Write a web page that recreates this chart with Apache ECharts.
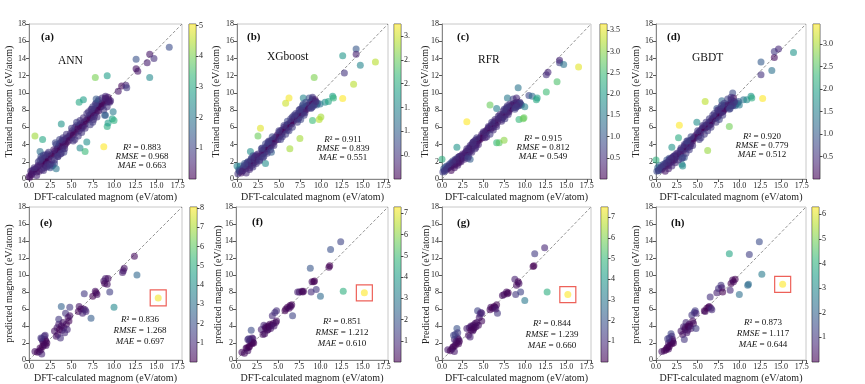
<!DOCTYPE html>
<html><head><meta charset="utf-8">
<script src="https://cdn.jsdelivr.net/npm/echarts@6/dist/echarts.min.js"></script>
<style>html,body{margin:0;padding:0;background:#fff}#c{width:865px;height:384px}</style>
</head><body><div id="c"></div>
<script>
// ---------------- DATA ----------------
// training set: DFT-calculated values (shared by the four models)
const trainX = [
 0.1,0.2,0.3,0.4,0.5,0.6,0.7,0.0,
 0.8,0.9,1.0,1.1,1.2,1.3,1.3,1.4,1.5,1.5,1.6,1.6,1.7,1.7,1.8,1.8,1.9,1.9,2.0,2.0,2.1,2.1,2.2,2.2,2.3,2.3,2.4,2.5,2.6,2.7,
 2.8,2.9,3.0,3.0,3.1,3.2,3.3,3.3,3.4,3.5,3.5,3.6,3.6,3.7,3.8,3.8,3.9,4.0,4.0,4.1,4.2,4.2,4.3,4.4,4.5,4.6,3.4,3.9,2.9,4.1,
 4.7,4.8,4.9,5.0,5.1,5.2,5.3,5.4,5.5,5.6,5.7,5.8,5.9,5.9,6.0,6.0,6.1,6.2,6.2,6.3,6.4,6.5,6.6,6.6,6.7,6.8,6.9,6.4,
 7.0,7.1,7.2,7.3,7.4,7.5,7.5,7.6,7.7,7.8,7.8,7.9,8.0,8.0,8.1,8.2,8.3,8.4,7.3,7.7,8.1,7.9,
 8.5,8.6,8.7,8.8,8.9,9.0,9.0,9.1,9.2,9.2,9.3,9.3,9.4,9.5,9.6,9.8,9.9,10.0,
 10.5,10.9,11.4,11.5,12.6,12.6,12.8,13.9,14.2,14.2,14.7,16.5,
 0.3,0.6,0.9,1.1,1.3,1.5,1.7,1.9,2.1,2.3,2.5,2.7, 3.0,3.2,3.4,3.6,3.8,4.0,4.2,4.4,3.1,3.7,
 5.0,5.4,5.6,5.8,6.0,6.2,6.4,6.6,6.8,5.2, 7.0,7.2,7.4,7.6,7.8,8.0,8.2,7.5,7.9, 8.6,8.8,9.0,9.2,9.4,9.0,8.9];
const annTrainY = [
 0.2,0.9,0.5,1.0,0.8,1.1,5.0,0.3,
 1.2,0.8,1.4,2.0,0.9,3.2,1.6,2.6,1.8,1.1,4.6,2.2,1.9,2.8,2.4,1.3,2.1,1.6,2.5,2.0,2.7,1.5,1.8,2.9,2.3,1.7,2.6,1.3,2.8,1.5,
 1.6,2.9,1.8,3.2,3.0,1.2,3.5,2.8,3.6,3.9,3.3,4.1,3.4,3.8,4.3,6.4,3.7,4.2,3.5,4.4,3.9,4.6,4.1,4.7,4.3,4.9,2.6,4.5,3.4,3.1,
 4.5,5.0,5.3,4.8,5.6,5.1,5.5,6.0,5.4,6.2,5.8,6.1,8.9,5.6,3.6,6.3,6.0,6.5,5.9,6.2,9.2,6.6,3.2,6.4,6.8,4.3,7.0,6.1,
 6.9,7.4,7.1,7.5,7.2,7.8,6.6,7.5,8.1,11.8,7.7,8.2,7.9,8.6,8.3,7.9,8.7,8.4,8.1,7.3,9.0,8.8,
 8.4,8.8,8.6,3.75,9.0,9.3,7.4,8.9,12.0,6.1,9.5,6.5,9.2,8.9,9.1,7.0,7.8,6.8,
 10.2,10.8,10.9,10.6,13.9,12.8,12.5,13.5,14.5,11.8,14.0,15.3,
 0.6,1.3,0.4,1.6,2.2,2.4,1.0,2.8,1.4,3.1,1.7,2.2, 2.2,4.0,2.6,4.6,3.0,4.8,3.5,5.2,4.2,2.9,
 5.9,4.6,6.6,5.0,6.8,5.4,7.1,5.9,7.6,4.4, 7.8,6.3,8.1,6.9,8.7,7.2,9.2,8.4,9.3, 9.4,8.0,9.6,8.4,9.0,9.4,7.4];
const xgbTrainY = [
 0.6,1.1,0.9,1.5,0.7,1.2,1.0,1.5,
 1.4,1.8,1.2,1.6,1.9,1.5,2.0,1.7,1.9,1.3,3.2,2.1,2.4,1.8,2.2,1.6,2.0,2.7,2.3,1.9,2.5,2.2,2.6,2.0,2.4,2.8,2.3,5.0,2.6,2.1,
 5.9,2.6,3.0,3.3,2.9,3.4,3.1,3.6,3.5,3.7,3.2,3.9,3.5,4.0,4.2,3.7,3.9,4.4,3.8,4.2,4.5,4.0,4.6,4.3,4.8,4.5,1.8,4.1,3.5,3.1,
 4.9,5.1,4.6,5.4,5.0,5.6,5.2,5.7,5.5,6.0,5.8,8.8,6.2,5.9,6.3,5.7,6.4,9.4,6.1,3.5,6.6,6.4,6.9,7.2,6.7,7.0,7.3,6.5,
 7.2,6.9,7.4,7.6,7.1,4.7,7.7,7.5,7.9,8.1,7.6,8.3,7.8,8.2,8.0,8.4,8.1,8.5,7.0,8.2,7.7,9.4,
 8.6,8.3,8.9,8.5,9.1,9.3,6.8,8.8,11.8,9.0,8.7,9.2,8.9,8.6,8.8,6.9,8.7,7.2,
 8.9,9.0,9.6,9.4,14.3,9.35,12.3,11.0,15.1,14.5,13.2,13.6,
 1.0,0.9,1.6,0.7,1.9,1.1,2.3,1.4,2.6,1.8,2.9,2.2, 3.6,2.6,4.1,3.0,4.4,3.4,4.9,3.9,2.5,4.3,
 5.6,4.9,6.2,5.2,6.7,5.6,7.0,6.0,7.4,4.6, 7.6,6.6,8.0,6.9,8.5,7.4,8.9,8.1,8.7, 9.4,8.2,9.5,8.6,9.0,8.4,8.3];
const rfrTrainY = [
 0.8,1.2,1.0,1.4,1.1,1.5,1.3,2.3,
 1.5,1.7,1.4,1.9,1.6,1.8,2.1,1.7,2.0,1.6,2.3,1.9,2.2,2.0,3.7,1.8,2.1,2.5,2.2,1.9,2.4,2.6,2.3,2.1,2.5,2.7,2.4,2.6,2.8,2.5,
 3.0,2.7,6.65,3.2,3.0,3.5,3.1,3.4,3.7,3.6,3.3,4.0,3.6,3.9,4.3,3.8,4.1,4.5,3.9,4.2,4.6,4.1,4.4,4.5,4.7,4.6,2.3,4.0,3.2,3.7,
 4.9,5.2,4.8,5.3,5.1,5.5,5.4,5.7,5.6,5.9,6.0,8.6,6.1,5.8,6.3,6.0,6.2,6.5,6.0,6.4,6.7,6.3,4.2,8.2,6.6,7.0,4.2,6.5,
 7.1,7.3,6.9,7.5,7.2,4.5,7.6,7.4,7.8,8.0,7.6,8.2,7.9,8.3,8.0,8.4,8.2,8.6,7.1,8.1,7.8,9.4,
 8.5,8.7,8.3,8.8,8.6,8.9,8.4,8.7,10.6,8.8,6.9,8.5,8.9,8.7,8.6,7.0,7.1,8.4,
 9.7,9.6,9.2,9.4,12.1,10.1,12.4,11.3,13.5,13.8,13.3,13.0,
 0.9,1.2,1.5,1.0,1.9,1.3,2.2,1.6,2.6,2.0,2.9,2.3, 3.5,2.6,3.9,3.1,4.3,3.5,4.8,4.0,2.4,4.2,
 5.5,4.9,6.1,5.2,6.6,5.7,6.9,6.1,7.3,4.8, 7.5,6.7,7.9,7.0,8.3,7.5,8.7,8.1,8.5, 9.3,8.1,9.4,8.5,8.8,8.6,8.3];
const gbdtTrainY = [
 0.9,1.3,1.0,1.6,1.2,1.4,1.1,2.2,
 1.4,1.7,1.6,1.8,1.5,1.9,2.2,1.8,2.0,1.6,2.4,2.1,2.3,1.9,2.2,2.0,3.7,2.4,2.5,2.1,2.3,2.6,2.4,2.2,2.6,2.8,2.5,2.7,2.9,4.8,
 6.25,2.9,3.1,3.4,1.7,1.5,3.3,3.6,3.8,3.5,3.9,4.1,3.7,3.9,4.2,3.6,4.0,4.4,3.8,4.3,4.5,4.1,4.6,4.4,4.7,4.9,2.5,4.2,3.3,3.8,
 4.8,5.1,6.6,5.3,5.0,5.5,5.6,5.4,5.8,5.9,6.1,6.0,9.0,5.9,6.2,6.0,6.3,3.3,6.1,6.5,6.3,6.6,6.4,6.8,6.7,7.0,7.1,6.2,
 7.0,7.3,7.1,7.5,7.2,7.7,7.4,7.6,7.9,8.1,7.7,8.2,7.8,8.3,8.0,8.5,8.2,8.6,8.2,8.0,7.9,9.1,
 8.4,8.6,8.3,6.1,8.8,9.2,8.5,8.9,10.0,8.7,9.4,8.6,9.0,8.5,8.7,8.8,9.0,8.6,
 9.2,9.2,9.6,9.4,13.6,12.1,9.35,12.6,14.1,14.8,15.1,14.7,
 1.0,1.3,1.5,0.9,1.9,1.2,2.3,1.5,2.6,1.9,3.0,2.2, 3.6,2.5,4.0,3.0,4.4,3.4,4.9,3.9,2.4,4.4,
 5.6,4.8,6.2,5.2,6.6,5.6,7.0,6.0,7.4,4.6, 7.6,6.6,8.0,6.9,8.4,7.4,8.8,8.0,8.6, 9.3,8.1,9.5,8.5,8.9,8.5,8.2];

// test set
const testX = [
 0.7,1.0,1.2,1.3,1.5,1.4,
 1.5,1.6,1.6,1.7,1.8,1.8,1.9,1.9,2.0,2.0,2.1,1.4,
 3.0,3.2,3.3,3.4,3.5,3.5,3.6,3.7,3.8,3.8,3.9,4.0,4.1,4.2,4.3,4.4,4.5,4.6,4.7,4.8,4.8,
 5.8,5.9,6.1,6.3,6.4,6.6,6.7,6.5,
 7.3,7.5,7.8,7.9,8.0,
 8.8,8.9,9.0,9.2,9.3,9.5,
 10.0,11.0,11.1,11.2,12.4,12.7,15.2];
const annTestY = [
 1.0,0.9,1.0,1.4,0.7,1.2,
 2.5,2.2,1.6,2.0,2.8,1.8,2.4,2.9,1.7,2.2,2.0,2.6,
 3.4,2.8,3.8,3.0,4.2,4.8,3.6,2.6,4.0,6.3,3.5,4.4,3.8,3.2,5.5,4.2,3.6,5.0,4.6,5.2,6.2,
 5.7,6.3,6.0,5.5,6.0,5.9,5.7,7.8,
 4.9,7.5,8.1,7.9,7.7,
 9.3,9.0,9.6,8.9,9.6,8.0,
 6.2,10.3,10.5,10.8,12.2,10.0,7.3];
const xgbTestY = [
 0.9,0.8,1.4,1.4,1.5,1.1,
 2.5,2.2,1.6,2.4,3.5,2.0,2.6,1.9,2.1,2.5,2.0,2.4,
 3.6,3.0,4.1,3.1,3.9,3.7,3.8,3.5,4.0,3.6,3.9,4.2,3.7,4.1,5.2,4.3,4.0,5.6,4.4,5.8,4.6,
 5.8,6.0,6.2,6.1,6.4,6.5,5.2,6.3,
 8.0,8.0,8.1,8.0,8.1,
 10.8,8.0,9.2,9.2,9.3,8.3,
 7.5,10.9,11.1,13.0,13.9,8.1,7.9];
const rfrTestY = [
 1.2,1.1,1.3,1.5,1.0,1.6,
 2.4,3.0,1.7,2.2,3.7,2.0,2.6,3.2,1.9,2.4,2.2,2.9,
 3.7,2.9,3.8,2.7,4.0,3.5,3.9,3.4,4.1,3.6,3.8,4.3,3.9,4.4,5.8,4.1,5.0,5.4,5.6,5.5,4.6,
 5.9,6.2,6.1,6.3,6.2,6.5,5.5,6.0,
 7.6,7.7,8.0,7.8,7.9,
 9.5,7.7,8.8,9.2,9.0,8.0,
 7.0,11.0,11.1,12.5,13.2,8.0,7.7];
const gbdtTestY = [
 1.0,1.1,1.2,1.4,1.3,1.5,
 2.0,2.6,1.6,2.1,3.1,2.0,2.8,1.9,2.2,2.4,2.0,2.5,
 3.4,3.0,3.9,2.4,3.6,3.8,4.4,3.2,4.0,3.5,3.9,4.2,4.0,3.7,5.3,4.6,4.3,5.6,5.8,5.5,3.7,
 5.8,5.7,6.1,6.2,6.3,6.1,5.9,7.4,
 7.9,8.4,8.8,8.5,8.0,
 12.5,8.2,9.0,9.4,9.2,9.5,
 7.7,8.8,8.9,12.4,13.9,10.1,8.9];
const flaggedTestX = 15.2;   // test point boxed in red

const panelLetters = ['(a)','(b)','(c)','(d)','(e)','(f)','(g)','(h)'];
const modelNames = ['ANN','XGboost','RFR','GBDT'];
const r2Values   = ['0.883','0.911','0.915','0.920','0.836','0.851','0.844','0.873'];
const rmseValues = ['0.968','0.839','0.812','0.779','1.268','1.212','1.239','1.117'];
const maeValues  = ['0.663','0.551','0.549','0.512','0.697','0.610','0.660','0.644'];
const colorMax   = [5.05, 3.25, 3.65, 3.45, 8.05, 7.3, 7.5, 6.3];
const colorStep  = [1, 0.5, 0.5, 0.5, 1, 1, 1, 1];
const axisRange  = [0, 18];
const xTickStep = 2.5, yTickStep = 2;
const xTitle = 'DFT-calculated magnom (eV/atom)';
// y titles of the left-most panels; between panels the colorbar title doubles as the next panel's y title
const yTitles  = ['Trained magnom (eV/atom)','','','',
                  'predicted magnom (eV/atom)','','',''];
const cbTitles = ['Trained magnom (eV/atom)','Trained magnom (eV/atom)','Trained magnom (eV/atom)','',
                  'predicted magnom (eV/atom)','Predicted magnom (eV/atom)','predicted magnom (eV/atom)',''];

// ---------------- LAYOUT ----------------
const FONT = 'Liberation Serif';
const viridis = ['#440154','#482878','#3e4989','#31688e','#26828e','#1f9e89','#35b779','#6ece58','#b5de2b','#fde725'];
const plotBoxes = [[29,24,153,155],[237,24,151,155],[442,24,149,155],[656,24,150,155],
                   [29,207,153,155],[236,207,152,155],[442,207,149,155],[656,207,150,155]];
const cbBoxes = [[189,24,7,155],[394,24,7,155],[600,24,7,155],[813,24,7,155],
                 [190,207,7,155],[394,207,7,155],[601,207,7,155],[812,207,7,155]];
const cbNameGap = [15,19,24,14,16,20,23,18];
const letterPos = [[41,37],[247,37],[457,37],[667,37],[40,223],[252,222],[457,223],[671,223]];
const namePos = [[58,61],[267,57],[478,60],[692,58]];
const statPos = [[142,148],[343,140],[543,139],[762,137],[140,320],[342,322],[552,324],[763,323]];

const panelsX = [trainX,trainX,trainX,trainX,testX,testX,testX,testX];
const panelsY = [annTrainY,xgbTrainY,rfrTrainY,gbdtTrainY,annTestY,xgbTestY,rfrTestY,gbdtTestY];

const grids=[], xAxes=[], yAxes=[], series=[], visualMaps=[], graphics=[];
const labelStyle = {fontFamily: FONT, fontSize: 8, color: '#222'};
const gradient = {type:'linear', x:0, y:1, x2:0, y2:0,
  colorStops: viridis.map((c,k)=>({offset:k/(viridis.length-1), color:c}))};

for (let i=0;i<8;i++){
  const [l,t,w,h] = plotBoxes[i];
  grids.push({left:l, top:t, width:w, height:h, show:true, borderColor:'#c8c8c8', borderWidth:1, backgroundColor:'transparent'});
  xAxes.push({type:'value', gridIndex:i, min:axisRange[0], max:axisRange[1], interval:xTickStep,
    axisLine:{show:true, lineStyle:{color:'#888', width:1}}, axisTick:{show:true, length:3, lineStyle:{color:'#555'}},
    splitLine:{show:false},
    axisLabel:Object.assign({margin:3, formatter:v=> (Math.abs(v%xTickStep)>1e-6)?'':v.toFixed(1)}, labelStyle),
    name:xTitle, nameLocation:'middle', nameGap:13, nameTextStyle:{fontFamily:FONT, fontSize:10, color:'#222'}});
  yAxes.push({type:'value', gridIndex:i, min:axisRange[0], max:axisRange[1], interval:yTickStep,
    axisLine:{show:true, lineStyle:{color:'#888', width:1}}, axisTick:{show:true, length:3, lineStyle:{color:'#555'}},
    splitLine:{show:false},
    axisLabel:Object.assign({margin:3}, labelStyle),
    name:yTitles[i], nameLocation:'middle', nameGap:13, nameTextStyle:{fontFamily:FONT, fontSize:10, color:'#222'}});
}
for (let i=0;i<8;i++){
  const [l,t,w,h] = cbBoxes[i];
  const step = colorStep[i];
  grids.push({left:l, top:t, width:w, height:h, show:true, borderColor:'#444', borderWidth:0.8, backgroundColor:'transparent'});
  xAxes.push({type:'category', gridIndex:8+i, data:['cb'], show:false});
  yAxes.push({type:'value', gridIndex:8+i, position:'right', min:0, max:colorMax[i], interval:step,
    axisLine:{show:false}, axisTick:{show:true, length:2.5, lineStyle:{color:'#444'}}, splitLine:{show:false},
    axisLabel:Object.assign({margin:3, showMinLabel:false, showMaxLabel:false,
      formatter:v=>{ if (Math.abs(v/step-Math.round(v/step))>1e-6) return '';
                     if (step===1) return String(Math.round(v));
                     const s=v.toFixed(1); return i===1 ? s.slice(0,2) : s; }}, labelStyle),
    name:cbTitles[i], nameLocation:'middle', nameRotate:90, nameGap:cbNameGap[i],
    nameTextStyle:{fontFamily:FONT, fontSize:10, color:'#222'}});
}

for (let i=0;i<8;i++){
  const xs = panelsX[i], ys = panelsY[i];
  const pts = xs.map((x,k)=>[x, ys[k], Math.abs(ys[k]-x)]);
  series.push({type:'line', xAxisIndex:i, yAxisIndex:i, data:[[axisRange[0],axisRange[0]],[axisRange[1],axisRange[1]]],
    symbol:'none', silent:true, z:1, lineStyle:{color:'#777', width:0.8, type:[3,2]}});
  const si = series.length;
  series.push({type:'scatter', xAxisIndex:i, yAxisIndex:i, data:pts, symbolSize:7, z:2,
    itemStyle:{opacity:0.6, borderWidth:0}});
  visualMaps.push({type:'continuous', show:false, seriesIndex:si, dimension:2, min:0, max:colorMax[i], inRange:{color:viridis}});
  series.push({type:'bar', xAxisIndex:8+i, yAxisIndex:8+i, data:[colorMax[i]], barWidth:'100%', silent:true,
    itemStyle:{color:gradient, opacity:0.6}});
  if (i>=4){
    const k = testX.indexOf(flaggedTestX);
    series.push({type:'scatter', xAxisIndex:i, yAxisIndex:i, data:[[testX[k], ys[k]]], symbol:'rect', symbolSize:16, z:3, silent:true,
      itemStyle:{color:'rgba(0,0,0,0)', borderColor:'#e8392f', borderWidth:1.2}});
  }
  graphics.push({type:'text', x:letterPos[i][0], y:letterPos[i][1], style:{text:panelLetters[i], fontFamily:FONT, fontWeight:'bold', fontSize:11, fill:'#111', align:'left', verticalAlign:'middle'}});
  if (i<4) graphics.push({type:'text', x:namePos[i][0], y:namePos[i][1], style:{text:modelNames[i], fontFamily:FONT, fontSize:11.5, fill:'#111', align:'left', verticalAlign:'middle'}});
  const rich = {i:{fontFamily:FONT, fontStyle:'italic', fontSize:9, fill:'#111'}, n:{fontFamily:FONT, fontSize:9, fill:'#111'}};
  const lines = ['{i|R}{n|² = '+r2Values[i]+'}', '{i|RMSE}{n| = '+rmseValues[i]+'}', '{i|MAE}{n| = '+maeValues[i]+'}'];
  const gap = i<4 ? 9 : 11;
  lines.forEach((tx,j)=>graphics.push({type:'text', x:statPos[i][0], y:statPos[i][1]+j*gap,
     style:{text:tx, rich:rich, align:'center', verticalAlign:'middle'}}));
}

const chart = echarts.init(document.getElementById('c'), null, {renderer:'canvas'});
chart.setOption({animation:false, backgroundColor:'#fff', grid:grids, xAxis:xAxes, yAxis:yAxes,
  visualMap:visualMaps, series:series, graphic:graphics});
</script></body></html>
